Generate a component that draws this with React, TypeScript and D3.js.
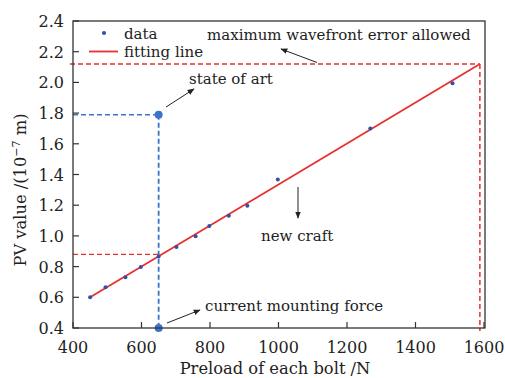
import React from "react";
import { scaleLinear, line } from "d3";

const W = 505;
const H = 378;
const margin = { top: 21, right: 20, bottom: 50, left: 73 };

// measured points (preload N, PV value 1e-7 m)
const preload = [450, 495, 553, 598, 650, 702, 758, 798, 855, 909, 998, 1268, 1508];
const pvValue = [0.60, 0.665, 0.73, 0.797, 0.865, 0.928, 0.997, 1.065, 1.132, 1.197, 1.368, 1.70, 1.995];

// fitting line end points
const fitX = [450, 1588];
const fitY = [0.60, 2.12];

const xTicks = [400, 600, 800, 1000, 1200, 1400, 1600];
const yTicks = [0.4, 0.6, 0.8, 1.0, 1.2, 1.4, 1.6, 1.8, 2.0, 2.2, 2.4];

// reference levels
const maxError = 2.12;
const maxForce = 1588;
const stateOfArt = 1.79;
const currentForce = 650;
const newCraft = 0.88;

const RED = "#e8312f";
const BLUE = "#3b73c9";
const DOT = "#2f4fa8";
const FONT = "'DejaVu Serif', serif";

export default function App() {
  const x = scaleLinear().domain([400, 1600]).range([margin.left, 484]);
  const y = scaleLinear().domain([0.4, 2.4]).range([H - margin.bottom, margin.top]);
  const x0 = margin.left;
  const x1 = 485;
  const y0 = H - margin.bottom;
  const y1 = margin.top;

  const fitPath = line<number>()
    .x((d) => x(d))
    .y((_, i) => y(fitY[i]))(fitX);

  const dash = "5,3";

  return (
    <svg
      width={W}
      height={H}
      style={{ position: "absolute", left: 0, top: 0, background: "#fff", fontFamily: FONT }}
    >
      <defs>
        <marker id="ah" viewBox="0 0 10 10" refX="9" refY="5" markerWidth="7" markerHeight="7" orient="auto">
          <path d="M0,1 L10,5 L0,9 Z" fill="#222" />
        </marker>
      </defs>
      <rect width={W} height={H} fill="#fff" />

      {/* ticks */}
      {xTicks.map((t) => (
        <g key={"x" + t}>
          <line x1={x(t)} x2={x(t)} y1={y0} y2={y0 - 6} stroke="#333" strokeWidth={1.2} />
          <text x={x(t)} y={353} textAnchor="middle" fontSize={16} fill="#222">
            {t}
          </text>
        </g>
      ))}
      {yTicks.map((t) => (
        <g key={"y" + t}>
          <line x1={x0} x2={x0 + 6} y1={y(t)} y2={y(t)} stroke="#333" strokeWidth={1.2} />
          <text x={64} y={y(t) + 6} textAnchor="end" fontSize={16} fill="#222">
            {t.toFixed(1)}
          </text>
        </g>
      ))}

      {/* reference lines */}
      <line x1={70} x2={x(maxForce)} y1={y(maxError)} y2={y(maxError)} stroke={RED} strokeWidth={1.5} strokeDasharray={dash} />
      <line x1={x(maxForce)} x2={x(maxForce)} y1={y(maxError)} y2={y0 + 3} stroke={RED} strokeWidth={1.5} strokeDasharray={dash} />
      <line x1={x0} x2={x(currentForce)} y1={y(newCraft)} y2={y(newCraft)} stroke={RED} strokeWidth={1.3} strokeDasharray={dash} />
      <line x1={x0} x2={x(currentForce)} y1={y(stateOfArt)} y2={y(stateOfArt)} stroke={BLUE} strokeWidth={1.5} strokeDasharray={dash} />
      <line x1={x(currentForce)} x2={x(currentForce)} y1={y(stateOfArt)} y2={y0} stroke={BLUE} strokeWidth={1.8} strokeDasharray={dash} />

      {/* fitting line */}
      <path d={fitPath ?? ""} fill="none" stroke={RED} strokeWidth={1.8} />

      {/* data */}
      {preload.map((p, i) => (
        <circle key={p} cx={x(p)} cy={y(pvValue[i])} r={2} fill={DOT} />
      ))}
      <circle cx={x(currentForce)} cy={y(stateOfArt)} r={4} fill={BLUE} />
      <circle cx={x(currentForce)} cy={y0} r={4} fill={BLUE} />

      {/* frame */}
      <rect x={x0} y={y1} width={x1 - x0} height={y0 - y1} fill="none" stroke="#333" strokeWidth={1.3} />

      {/* legend */}
      <circle cx={104} cy={33} r={2} fill={DOT} />
      <text x={124} y={39} fontSize={15} fill="#222">data</text>
      <line x1={89} x2={118} y1={51.5} y2={51.5} stroke={RED} strokeWidth={1.8} />
      <text x={124} y={57} fontSize={15} fill="#222">fitting line</text>

      {/* annotations */}
      <text x={207} y={40} fontSize={15} fill="#222">maximum wavefront error allowed</text>
      <line x1={317} y1={62.5} x2={281} y2={49} stroke="#222" strokeWidth={1} markerEnd="url(#ah)" />

      <text x={189} y={84} fontSize={15} fill="#222">state of art</text>
      <line x1={166} y1={107} x2={194} y2={89} stroke="#222" strokeWidth={1} markerEnd="url(#ah)" />

      <line x1={298} y1={187} x2={298} y2={218} stroke="#222" strokeWidth={1} markerEnd="url(#ah)" />
      <text x={261} y={241} fontSize={15} fill="#222">new craft</text>

      <text x={205} y={311} fontSize={15} fill="#222">current mounting force</text>
      <line x1={167} y1={323} x2={200} y2={310} stroke="#222" strokeWidth={1} markerEnd="url(#ah)" />

      {/* axis titles */}
      <text x={275} y={374} textAnchor="middle" fontSize={16.3} fill="#222">
        Preload of each bolt /N
      </text>
      <text transform="translate(26,190) rotate(-90)" textAnchor="middle" fontSize={16.3} fill="#222">
        PV value /(10
        <tspan dy={-6} fontSize={11}>−7</tspan>
        <tspan dy={6}> m)</tspan>
      </text>
    </svg>
  );
}
